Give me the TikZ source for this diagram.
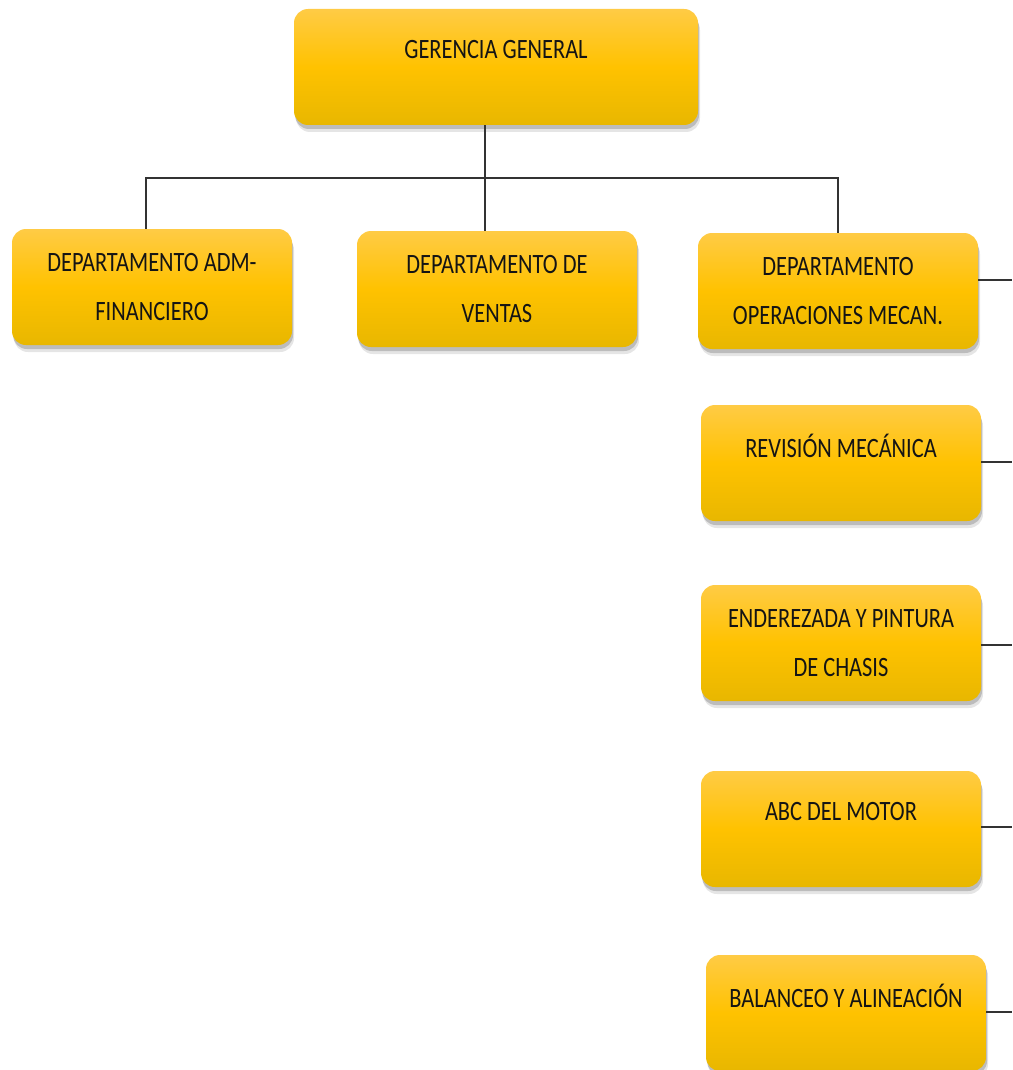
\documentclass[tikz,border=0pt]{standalone}
\usepackage{fontspec}
\setmainfont{Carlito}[FakeStretch=0.8]
\usetikzlibrary{shadows}
\definecolor{boxtop}{HTML}{FFCB45}
\definecolor{boxmid}{HTML}{FFC200}
\definecolor{boxbot}{HTML}{E8B700}
\definecolor{txt}{HTML}{141414}
\definecolor{linec}{HTML}{333333}
\newcommand{\oneline}[1]{#1\\[-14.5pt]\mbox{}}
\tikzset{
  box/.style={rounded corners=14pt, minimum width=280pt, minimum height=116pt,
    top color=boxtop, bottom color=boxbot, middle color=boxmid,
    align=center, text=txt, inner sep=0pt,
    font=\fontsize{28}{49.5}\selectfont,
    drop shadow={shadow xshift=2pt, shadow yshift=-7pt, fill=black, opacity=0.10},
    drop shadow={shadow xshift=1pt, shadow yshift=-4pt, fill=black, opacity=0.18}},
  conn/.style={draw=linec, line width=1.3pt}
}
\begin{document}
\begin{tikzpicture}[x=1pt,y=-1pt]
\useasboundingbox (0,0) rectangle (1012,1070);
\node[box, minimum width=404pt] (gg) at (496,67) {\oneline{GERENCIA GENERAL}};
\node[box] (adm) at (152,287) {DEPARTAMENTO ADM-\\FINANCIERO};
\node[box] (ven) at (497,289) {DEPARTAMENTO DE\\VENTAS};
\node[box] (ope) at (838,291) {DEPARTAMENTO\\OPERACIONES MECAN.};
\node[box] (rev) at (841,463) {\oneline{REVISIÓN MECÁNICA}};
\node[box] (end) at (841,643) {ENDEREZADA Y PINTURA\\DE CHASIS};
\node[box] (abc) at (841,829) {\oneline{ABC DEL MOTOR}};
\node[box] (bal) at (846,1013) {\oneline{BALANCEO Y ALINEACIÓN}};
\coordinate (j) at (485,178);
\coordinate (e1) at (1012,280);
\coordinate (e2) at (1012,462);
\coordinate (e3) at (1012,645);
\coordinate (e4) at (1012,827);
\coordinate (e5) at (1012,1012);
\draw[conn] (gg.south -| j) -- (ven.north -| j);
\draw[conn] ([xshift=-6pt]adm.north) |- (j) -| (ope.north);
\draw[conn] (ope.east |- e1) -- (e1);
\draw[conn] (rev.east |- e2) -- (e2);
\draw[conn] (end.east |- e3) -- (e3);
\draw[conn] (abc.east |- e4) -- (e4);
\draw[conn] (bal.east |- e5) -- (e5);
\end{tikzpicture}
\end{document}
